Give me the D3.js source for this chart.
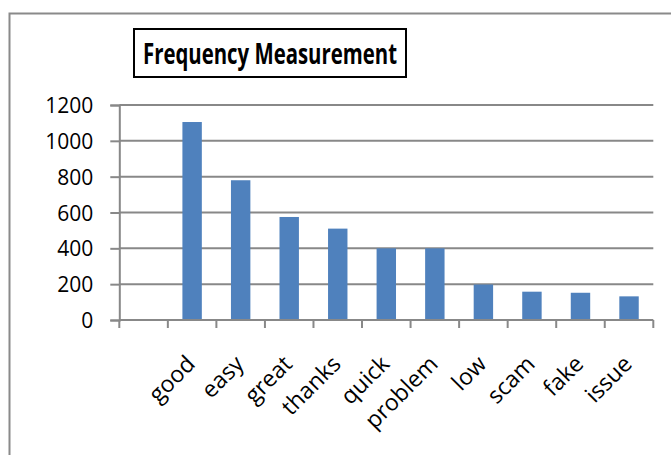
<!DOCTYPE html>
<html><head><meta charset="utf-8">
<script src="https://cdn.jsdelivr.net/npm/d3@7"></script>
<style>body{margin:0;background:#fff}svg{display:block}</style>
</head><body>
<script>
const categories = ["", "good", "easy", "great", "thanks", "quick", "problem", "low", "scam", "fake", "issue"];
const values = [null, 1105, 780, 575, 510, 400, 400, 198, 158, 152, 132];
const yTicks = [0, 200, 400, 600, 800, 1000, 1200];
const title = "Frequency Measurement";

const W = 671, H = 455;
const svg = d3.select("body").append("svg").attr("width", W).attr("height", H);
const font = "'Open Sans', 'Liberation Sans', sans-serif";

// outer frame
svg.append("path").attr("d", `M9.5,${H} L9.5,13.5 L${W},13.5`)
  .attr("fill", "none").attr("stroke", "#8a8a8a").attr("stroke-width", 2);

const xb = d3.scaleBand().domain(categories.map((c, i) => i)).range([119.3, 653.3]);
const y = d3.scaleLinear().domain([0, 1200]).range([320, 105]);

// gridlines
svg.append("g").selectAll("line").data(yTicks.filter(d => d > 0)).join("line")
  .attr("x1", 119.3).attr("x2", 653.3).attr("y1", d => y(d)).attr("y2", d => y(d))
  .attr("stroke", "#888").attr("stroke-width", 2);

// bars
svg.append("g").selectAll("rect").data(values.map((v, i) => ({v, i})).filter(d => d.v != null)).join("rect")
  .attr("x", d => xb(d.i) + xb.bandwidth() * 0.3).attr("width", xb.bandwidth() * 0.4)
  .attr("y", d => y(d.v)).attr("height", d => y(0) - y(d.v))
  .attr("fill", "#4F81BD");

// y axis
const yAxis = svg.append("g").attr("transform", "translate(119.3,0)")
  .call(d3.axisLeft(y).tickValues(yTicks).tickFormat(d3.format("d")).tickSize(9).tickPadding(17));
yAxis.select(".domain").attr("stroke", "#888").attr("stroke-width", 2);
yAxis.selectAll(".tick line").attr("stroke", "#888").attr("stroke-width", 2);
yAxis.selectAll(".tick text").attr("font-family", font).attr("font-size", 21).attr("fill", "#000")
  .attr("dy", "0.36em");

// x axis
const boundaries = d3.range(categories.length + 1);
const xPos = d3.scaleLinear().domain([0, categories.length]).range([119.3, 653.3]);
const xg = svg.append("g");
xg.append("line").attr("x1", 119.3).attr("x2", 653.3).attr("y1", 320).attr("y2", 320)
  .attr("stroke", "#888").attr("stroke-width", 2);
xg.selectAll("line.tk").data(boundaries).join("line").attr("class", "tk")
  .attr("x1", d => xPos(d)).attr("x2", d => xPos(d)).attr("y1", 320).attr("y2", 328)
  .attr("stroke", "#888").attr("stroke-width", 2);
xg.selectAll("text").data(categories.map((c, i) => ({c, i}))).join("text")
  .attr("transform", d => `translate(${xb(d.i) + xb.bandwidth() / 2 - 7},354) rotate(-45)`)
  .attr("text-anchor", "end").attr("dy", "0.7em")
  .attr("font-family", font).attr("font-size", 23).attr("fill", "#000")
  .text(d => d.c);

// title
svg.append("rect").attr("x", 134).attr("y", 29).attr("width", 272).attr("height", 48)
  .attr("fill", "#fff").attr("stroke", "#000").attr("stroke-width", 2);
svg.append("text").attr("x", 270).attr("y", 64).attr("text-anchor", "middle")
  .attr("font-family", font).attr("font-weight", "bold").attr("font-size", 29)
  .attr("textLength", 254).attr("lengthAdjust", "spacingAndGlyphs")
  .text(title);
</script>
</body></html>
